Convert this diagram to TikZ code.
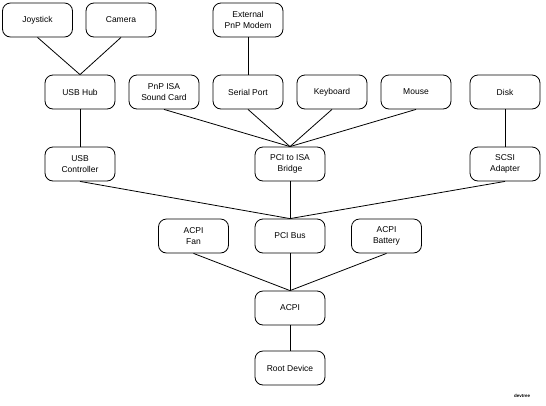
\documentclass[tikz,border=0pt]{standalone}
\usepackage{fontspec}
\setmainfont{Liberation Sans}
\begin{document}
\begin{tikzpicture}[x=1pt,y=-1pt,
  dev/.style={draw, rounded corners=8pt, minimum width=70pt, minimum height=34pt,
    inner sep=1pt, align=center, font=\fontsize{8.5}{11}\selectfont, line width=0.8pt},
  link/.style={line width=0.8pt}]
\useasboundingbox (0,0) rectangle (546,405);
% top row
\node[dev] (joy) at (37.5,20) {Joystick};
\node[dev] (cam) at (121,20) {Camera};
\node[dev] (modem) at (248,20) {External\\PnP Modem};
% second row
\node[dev] (hub) at (80,92) {USB Hub};
\node[dev] (snd) at (164,92) {PnP ISA\\Sound Card};
\node[dev] (ser) at (248,92) {Serial Port};
\node[dev] (kbd) at (332,92) {Keyboard};
\node[dev] (mouse) at (416,92) {Mouse};
\node[dev] (disk) at (505,92) {Disk};
% controllers and bridges
\node[dev] (usbc) at (80,164) {USB\\Controller};
\node[dev] (isa) at (290,164) {PCI to ISA\\Bridge};
\node[dev] (scsi) at (505,164) {SCSI\\Adapter};
% buses
\node[dev] (fan) at (193.5,236) {ACPI\\Fan};
\node[dev] (pci) at (290,236) {PCI Bus};
\node[dev] (bat) at (386.5,236) {ACPI\\Battery};
\node[dev] (acpi) at (290,308) {ACPI};
\node[dev] (root) at (290,368) {Root Device};
\node[font=\fontsize{4.5}{5}\selectfont\bfseries] (label) at (522,396) {devtree};
% connections
\draw[link] (joy.south) -- (hub.north);
\draw[link] (cam.south) -- (hub.north);
\draw[link] (modem.south) -- (ser.north);
\draw[link] (hub.south) -- (usbc.north);
\draw[link] (disk.south) -- (scsi.north);
\foreach \n in {snd,ser,kbd,mouse} \draw[link] (\n.south) -- (isa.north);
\foreach \n in {usbc,isa,scsi} \draw[link] (\n.south) -- (pci.north);
\foreach \n in {fan,pci,bat} \draw[link] (\n.south) -- (acpi.north);
\draw[link] (acpi.south) -- (root.north);
\end{tikzpicture}
\end{document}
